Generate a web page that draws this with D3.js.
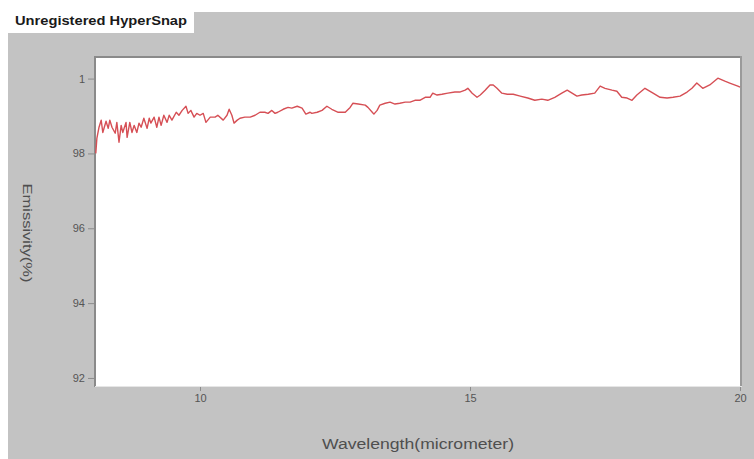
<!DOCTYPE html>
<html>
<head>
<meta charset="utf-8">
<script src="https://cdn.jsdelivr.net/npm/d3@7/dist/d3.min.js"></script>
<style>
  html, body { margin: 0; padding: 0; background: #ffffff; }
  svg { display: block; }
</style>
</head>
<body>
<svg id="chart" width="754" height="459"></svg>
<script>
// Wavelength (micrometer) samples
const wavelength = [
  8.07, 8.09, 8.13, 8.17, 8.20, 8.26, 8.30, 8.33, 8.37, 8.43, 8.46, 8.50, 8.54, 8.57, 8.63, 8.65,
  8.70, 8.74, 8.78, 8.83, 8.87, 8.91, 8.96, 9.02, 9.06, 9.09, 9.15, 9.20, 9.24, 9.28, 9.33, 9.39,
  9.43, 9.48, 9.56, 9.61, 9.67, 9.74, 9.78, 9.83, 9.89, 9.94,
  10.00, 10.06, 10.11, 10.19, 10.28, 10.33, 10.43, 10.50, 10.54, 10.59, 10.63, 10.69, 10.74, 10.83,
  10.93, 11.02, 11.11, 11.20, 11.26, 11.33, 11.39, 11.44, 11.54, 11.63, 11.70, 11.80, 11.89, 11.96,
  12.04, 12.07, 12.17, 12.26, 12.35, 12.44, 12.56, 12.69, 12.78, 12.83, 12.93, 13.06, 13.11, 13.19,
  13.22, 13.28, 13.33, 13.43, 13.52, 13.61, 13.70, 13.80, 13.89, 13.98, 14.07, 14.17, 14.26, 14.31,
  14.39, 14.48, 14.59, 14.72, 14.81, 14.91, 14.96, 15.04, 15.13, 15.19, 15.28, 15.37, 15.43, 15.50,
  15.59, 15.69, 15.80, 15.93, 16.07, 16.20, 16.33, 16.44, 16.57, 16.70, 16.80, 16.89, 16.98, 17.07,
  17.19, 17.31, 17.41, 17.50, 17.63, 17.72, 17.81, 17.91, 18.00, 18.09, 18.24, 18.39, 18.52, 18.65,
  18.76, 18.89, 19.02, 19.11, 19.20, 19.31, 19.44, 19.59, 19.72, 19.81, 19.96, 20.00
];

// Emissivity (%) at each wavelength
const emissivity = [
  98.00, 98.40, 98.70, 98.89, 98.56, 98.86, 98.67, 98.89, 98.70, 98.54, 98.83, 98.30, 98.75, 98.56, 98.83, 98.43,
  98.83, 98.56, 98.75, 98.56, 98.81, 98.70, 98.94, 98.67, 98.94, 98.81, 98.97, 98.70, 98.97, 98.75, 99.02, 98.83,
  99.02, 98.89, 99.10, 99.02, 99.15, 99.26, 99.07, 99.15, 98.97, 99.07,
  99.02, 99.07, 98.83, 98.97, 98.97, 99.02, 98.89, 99.02, 99.18, 99.02, 98.81, 98.89, 98.94, 98.97,
  98.97, 99.02, 99.10, 99.10, 99.07, 99.15, 99.07, 99.10, 99.18, 99.23, 99.21, 99.26, 99.21, 99.05,
  99.10, 99.07, 99.10, 99.15, 99.26, 99.18, 99.10, 99.10, 99.23, 99.34, 99.32, 99.29, 99.23, 99.10,
  99.05, 99.15, 99.29, 99.34, 99.37, 99.32, 99.34, 99.37, 99.37, 99.42, 99.42, 99.50, 99.50, 99.61,
  99.56, 99.58, 99.61, 99.64, 99.64, 99.69, 99.74, 99.61, 99.50, 99.56, 99.69, 99.83, 99.83, 99.74,
  99.61, 99.58, 99.58, 99.53, 99.48, 99.42, 99.45, 99.42, 99.50, 99.61, 99.69, 99.61, 99.53, 99.56,
  99.58, 99.61, 99.80, 99.74, 99.69, 99.66, 99.50, 99.48, 99.42, 99.56, 99.74, 99.61, 99.50, 99.48,
  99.50, 99.53, 99.64, 99.74, 99.88, 99.74, 99.83, 100.01, 99.93, 99.88, 99.80, 99.77
];

// Axis ticks and their printed labels (the 100 label is clipped to "1")
const xTicks = [10, 15, 20];
const xTickLabels = ["10", "15", "20"];
const yTicks = [92, 94, 96, 98, 100];
const yTickLabels = ["92", "94", "96", "98", "1"];

const xTitle = "Wavelength(micrometer)";
const yTitle = "Emissivity(%)";
const bannerText = "Unregistered HyperSnap";

const W = 754, H = 459;
const plot = { left: 96, top: 58, right: 740, bottom: 386 };

const svg = d3.select("#chart");

// window background and capture banner
svg.append("rect").attr("x", 8).attr("y", 12).attr("width", W - 8).attr("height", H - 12)
  .attr("fill", "#c3c3c3");
svg.append("rect").attr("x", 8).attr("y", 0).attr("width", 186).attr("height", 33)
  .attr("fill", "#ffffff");
svg.append("text").attr("x", 15).attr("y", 25)
  .attr("font-family", "Liberation Sans, Arial, sans-serif")
  .attr("font-weight", "bold").attr("font-size", 12)
  .attr("textLength", 172).attr("lengthAdjust", "spacingAndGlyphs")
  .attr("fill", "#1a1a1a").text(bannerText);

const x = d3.scaleLinear().domain([8.074, 20]).range([plot.left, plot.right]);
const y = d3.scaleLinear().domain([91.785, 100.55]).range([plot.bottom, plot.top]);

// plot area
svg.append("rect")
  .attr("x", plot.left).attr("y", plot.top)
  .attr("width", plot.right - plot.left).attr("height", plot.bottom - plot.top)
  .attr("fill", "#ffffff");

// sunken frame
const frame = svg.append("g").attr("fill", "none");
frame.append("line").attr("x1", plot.left - 1).attr("x2", plot.right + 2)
  .attr("y1", plot.top - 1).attr("y2", plot.top - 1).attr("stroke", "#8a8a8a").attr("stroke-width", 2);
frame.append("line").attr("x1", plot.left - 1).attr("x2", plot.left - 1)
  .attr("y1", plot.top - 2).attr("y2", plot.bottom + 1).attr("stroke", "#8a8a8a").attr("stroke-width", 2);
frame.append("line").attr("x1", plot.right + 1).attr("x2", plot.right + 1)
  .attr("y1", plot.top - 2).attr("y2", plot.bottom + 1).attr("stroke", "#9a9a9a").attr("stroke-width", 2);
frame.append("line").attr("x1", plot.left - 1).attr("x2", plot.right + 2)
  .attr("y1", plot.bottom + 0.5).attr("y2", plot.bottom + 0.5).attr("stroke", "#e6e6e6").attr("stroke-width", 1);

const tickFont = "Liberation Sans, Arial, sans-serif";

// y axis
const yAxis = d3.axisLeft(y).tickValues(yTicks)
  .tickFormat((d, i) => yTickLabels[i]).tickSize(6).tickPadding(3);
const gy = svg.append("g").attr("transform", `translate(${plot.left - 2},0)`).call(yAxis);
gy.select(".domain").remove();
gy.selectAll(".tick line").attr("stroke", "#8c8c8c");
gy.selectAll(".tick text").attr("fill", "#555555").attr("font-size", 11)
  .attr("font-family", tickFont);

// x axis
const xAxis = d3.axisBottom(x).tickValues(xTicks)
  .tickFormat((d, i) => xTickLabels[i]).tickSize(4).tickPadding(3);
const gx = svg.append("g").attr("transform", `translate(0,${plot.bottom + 1})`).call(xAxis);
gx.select(".domain").remove();
gx.selectAll(".tick line").attr("stroke", "#8c8c8c");
gx.selectAll(".tick text").attr("fill", "#555555").attr("font-size", 11)
  .attr("font-family", tickFont);

// axis titles
svg.append("text").attr("x", 418).attr("y", 449).attr("text-anchor", "middle")
  .attr("font-family", tickFont).attr("font-size", 14).attr("fill", "#4f4f4f")
  .attr("textLength", 192).attr("lengthAdjust", "spacingAndGlyphs")
  .text(xTitle);
svg.append("text").attr("transform", "translate(23,233) rotate(90)").attr("text-anchor", "middle")
  .attr("font-family", tickFont).attr("font-size", 13).attr("fill", "#4f4f4f")
  .attr("textLength", 99).attr("lengthAdjust", "spacingAndGlyphs")
  .text(yTitle);

// emissivity curve
const points = wavelength.map((w, i) => [w, emissivity[i]]);
const line = d3.line().x(d => x(d[0])).y(d => y(d[1]));
svg.append("path").datum(points)
  .attr("d", line)
  .attr("fill", "none")
  .attr("stroke", "#d64f55")
  .attr("stroke-width", 1.4)
  .attr("stroke-linejoin", "round");
</script>
</body>
</html>
